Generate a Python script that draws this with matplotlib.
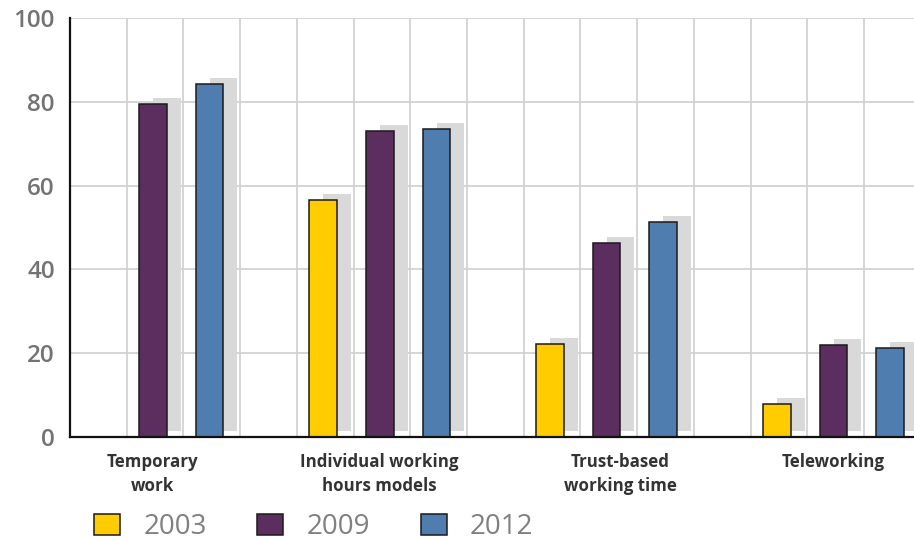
import numpy as np
import matplotlib
matplotlib.use("Agg")
import matplotlib.pyplot as plt
from matplotlib.patches import Patch
from matplotlib.transforms import ScaledTranslation, blended_transform_factory

plt.rcParams['font.family'] = ['Open Sans', 'DejaVu Sans']

# Share of companies using each flexible work model (%)
categories = ['Temporary\nwork', 'Individual working\nhours models',
              'Trust-based\nworking time', 'Teleworking']
years = ['2003', '2009', '2012']
values_2003 = [0, 56.6, 22.2, 7.9]
values_2009 = [79.5, 73.0, 46.3, 22.0]
values_2012 = [84.2, 73.5, 51.3, 21.2]
series = [values_2003, values_2009, values_2012]
colors = ['#FFCC00', '#5C2E60', '#507DAF']

fig = plt.figure(figsize=(9.14, 5.4), dpi=100)
ax = fig.add_axes([0.0766, 0.1907, 0.9234, 0.776])

bar_w = 0.49
# drop shadow: same bars shifted right and up a few pixels
shadow = ax.transData + ScaledTranslation(0.14, 0.06, fig.dpi_scale_trans)

for s, vals in enumerate(series):
    xs = np.arange(len(categories)) * 4 + s + 0.46
    ax.bar(xs, vals, width=bar_w, color='#d9d9d9', linewidth=0,
           transform=shadow, zorder=1)
    ax.bar(xs, vals, width=bar_w, color=colors[s], edgecolor='#1a1a1a',
           linewidth=1.1, zorder=3)

ax.set_xlim(0, 14.88)
ax.set_ylim(0, 100)
ax.set_yticks(np.arange(0, 101, 20))
ax.set_xticks(np.arange(1, 15))
ax.tick_params(axis='x', length=0, labelbottom=False)
ax.tick_params(axis='y', length=0, pad=11, labelsize=17.5, labelcolor='#737373')
for lbl in ax.get_yticklabels():
    lbl.set_fontweight('semibold')
ax.grid(True, color='#d2d2d2', linewidth=1.3, zorder=0)
ax.set_axisbelow(True)

for side in ['top', 'right']:
    ax.spines[side].set_visible(False)
for side in ['left', 'bottom']:
    ax.spines[side].set_color('#111111')
    ax.spines[side].set_linewidth(1.6)
    ax.spines[side].set_zorder(4)

# category labels under the middle bar of each group
label_x = [1.46, 5.46, 9.7, 13.46]
trans = blended_transform_factory(ax.transData, ax.transAxes)
for x, label in zip(label_x, categories):
    ax.annotate(label, (x, 0), xycoords=trans,
                xytext=(0, -16), textcoords='offset pixels',
                ha='center', va='top', fontsize=12.2, fontweight='bold',
                color='#333333', linespacing=1.4)

handles = [Patch(facecolor=c, edgecolor='#1a1a1a', linewidth=1.1) for c in colors]
fig.legend(handles, years, loc='center left', bbox_to_anchor=(94 / 914, 1 - 527 / 540),
           ncol=3, frameon=False, fontsize=20, labelcolor='#808080',
           handlelength=0.94, handleheight=0.79, handletextpad=0.83,
           columnspacing=1.83, borderpad=0, borderaxespad=0)

fig.savefig('out.png', dpi=100)
